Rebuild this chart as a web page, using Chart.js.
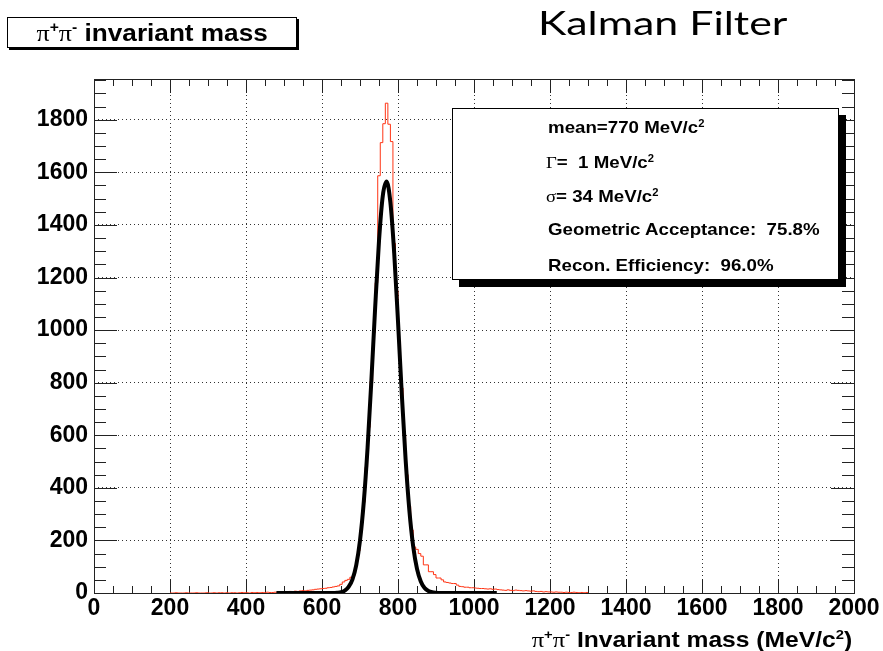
<!DOCTYPE html>
<html>
<head>
<meta charset="utf-8">
<script src="https://cdn.jsdelivr.net/npm/chart.js@4.4.1/dist/chart.umd.min.js"></script>
<style>
  html, body { margin: 0; padding: 0; background: #fff; }
  #wrap { position: relative; width: 883px; height: 651px; background: #fff; overflow: hidden; }
  #wrap canvas { position: absolute; left: 0; top: 0; }
  .root { position: absolute; font-family: "Liberation Sans", Arial, sans-serif; font-weight: bold; color: #000; white-space: nowrap; }
  .sym { font-family: "Liberation Serif", "DejaVu Serif", serif; font-weight: normal; }
  .sup { font-size: 60%; position: relative; top: -0.6em; }
  .stretch { display: inline-block; }
  #title { left: 7px; top: 17px; width: 288px; height: 29px; border: 1px solid #000; box-shadow: 2px 2px 0 #000; background: #fff; font-size: 24px; line-height: 29px; text-align: center; }
  #title .stretch { transform: scaleX(1.09); transform-origin: center top; }
  #kalman { position: absolute; left: 538px; top: 2px; font-family: Lato, "Open Sans", sans-serif; font-size: 33px; line-height: 40px; color: #000; transform-origin: left top; transform: scaleX(1.3); white-space: nowrap; }
  #stats { left: 452px; top: 108px; width: 385px; height: 170px; border: 1px solid #000; box-shadow: 7px 7px 0 #000; background: #fff; font-size: 17px; }
  #stats .ln { position: absolute; left: 95px; line-height: 20px; transform-origin: left top; transform: scaleX(1.1); }
  #xtitle { right: 31px; top: 628px; font-size: 22px; line-height: 24px; transform-origin: right top; transform: scaleX(1.12); }
</style>
</head>
<body>
<div id="wrap">
  <canvas id="c" width="883" height="651"></canvas>
  <div id="title" class="root"><span class="stretch"><span class="sym">π</span><span class="sup">+</span><span class="sym">π</span><span class="sup">-</span> invariant mass</span></div>
  <div id="kalman">Kalman Filter</div>
  <div id="stats" class="root">
    <div class="ln" style="top:9px">mean=770 MeV/c<span class="sup">2</span></div>
    <div class="ln" style="top:44px; left:93px"><span class="sym">Γ</span>=&nbsp; 1 MeV/c<span class="sup">2</span></div>
    <div class="ln" style="top:78px; left:93px"><span class="sym">σ</span>= 34 MeV/c<span class="sup">2</span></div>
    <div class="ln" style="top:111px">Geometric Acceptance:&nbsp; 75.8%</div>
    <div class="ln" style="top:147px">Recon. Efficiency:&nbsp; 96.0%</div>
  </div>
  <div id="xtitle" class="root"><span class="sym">π</span><span class="sup">+</span><span class="sym">π</span><span class="sup">-</span> Invariant mass (MeV/c<span class="sup">2</span>)</div>
</div>
<script>
// axis ticks
const xTicks = [0, 200, 400, 600, 800, 1000, 1200, 1400, 1600, 1800, 2000];
const yTicks = [0, 200, 400, 600, 800, 1000, 1200, 1400, 1600, 1800];

// red histogram, bins of 20/3 MeV starting at 200 MeV
const histLo = 200;
const histW = 20 / 3;
const histCounts = [
  0, 0, 1, 0, 0, 0, 1, 0, 0,
  0, 1, 0, 0, 0, 1, 0, 0, 1,
  0, 1, 1, 0, 1, 0, 1, 1, 0,
  1, 2, 1, 1, 0, 2, 1, 2, 1,
  2, 1, 3, 2, 2, 3, 2, 4, 3,
  4, 5, 6, 5, 7, 6, 8, 9, 8,
  10, 11, 12, 14, 15, 16, 17, 18, 20,
  21, 23, 25, 27, 33, 42, 48, 52, 60,
  66, 104, 160, 240, 345, 478, 630, 805, 990,
  1180, 1587, 1713, 1785, 1863, 1783, 1717, 1330, 1150,
  960, 780, 600, 450, 330, 240, 175, 166, 150,
  140, 107, 107, 81, 81, 70, 57, 57, 50,
  42, 40, 38, 36, 36, 30, 25, 24, 22,
  22, 20, 20, 19, 18, 17, 17, 16, 15,
  16, 14, 15, 13, 12, 11, 10, 12, 10,
  9, 11, 10, 9, 8, 9, 8, 7, 8,
  6, 5, 6, 4, 5, 4, 4, 3, 4,
  3, 3, 2, 3, 2, 2, 3, 2, 1,
  2, 1, 2
];

// black fit curve, sampled every 10 MeV from 480 MeV
const fitLo = 480;
const fitStep = 10;
const fitValues = [
  0, 0, 0, 0, 0, 0, 0, 0, 0, 0, 0, 0, 0, 0, 0, 0,
  1, 3, 9, 23, 51, 105, 200, 347, 554, 810, 1088, 1339, 1511,
  1565,
  1485, 1293, 1033, 756, 508, 313, 177, 92, 44, 19, 8, 3, 1,
  0, 0, 0, 0, 0, 0, 0, 0, 0, 0, 0, 0, 0, 0, 0, 0
];

const histPoints = histCounts.map((c, i) => ({ x: histLo + i * histW, y: c }));
histPoints.push({ x: histLo + histCounts.length * histW, y: histCounts[histCounts.length - 1] });
const fitPoints = fitValues.map((v, i) => ({ x: fitLo + i * fitStep, y: v }));

const tickFont = { family: "'Liberation Sans', Arial, sans-serif", weight: 'bold', size: 23 };

// ROOT style frame with major and minor ticks on all four sides
const rootAxes = {
  id: 'rootAxes',
  beforeDatasetsDraw(chart) {
    const { ctx, chartArea: a, scales: { x, y } } = chart;
    ctx.save();
    ctx.strokeStyle = '#222';
    ctx.lineWidth = 1;
    ctx.beginPath();
    for (let v = 0; v <= x.max; v += 50) {
      const px = Math.round(x.getPixelForValue(v)) + 0.5;
      const len = v % 200 === 0 ? 14 : 7;
      ctx.moveTo(px, a.bottom); ctx.lineTo(px, a.bottom - len);
      ctx.moveTo(px, a.top); ctx.lineTo(px, a.top + len);
    }
    for (let v = 0; v <= y.max; v += 50) {
      const py = Math.round(y.getPixelForValue(v)) + 0.5;
      const len = v % 200 === 0 ? 23 : 12;
      ctx.moveTo(a.left, py); ctx.lineTo(a.left + len, py);
      ctx.moveTo(a.right, py); ctx.lineTo(a.right - len, py);
    }
    ctx.stroke();
    ctx.strokeRect(Math.round(a.left) + 0.5, Math.round(a.top) + 0.5,
      Math.round(a.right - a.left), Math.round(a.bottom - a.top));
    ctx.restore();
  }
};

new Chart(document.getElementById('c'), {
  type: 'line',
  data: {
    datasets: [
      {
        label: 'fit',
        data: fitPoints,
        borderColor: '#000',
        borderWidth: 4,
        pointRadius: 0,
        cubicInterpolationMode: 'monotone',
        fill: false
      },
      {
        label: 'pi+pi- invariant mass',
        data: histPoints,
        borderColor: '#ff3414',
        borderWidth: 1,
        pointRadius: 0,
        stepped: true,
        fill: false
      }
    ]
  },
  options: {
    responsive: false,
    animation: false,
    layout: { padding: { top: 79, right: 29, left: 0, bottom: 0 } },
    plugins: { legend: { display: false }, tooltip: { enabled: false } },
    scales: {
      x: {
        type: 'linear',
        min: 0,
        max: 2000,
        afterBuildTicks: s => { s.ticks = xTicks.map(v => ({ value: v })); },
        afterFit: s => { s.height = 58; },
        grid: { color: '#333', lineWidth: 1, drawTicks: false },
        border: { display: false, dash: [1, 3] },
        ticks: { font: tickFont, color: '#000', padding: 2, maxRotation: 0, autoSkip: false, callback: v => String(v) }
      },
      y: {
        min: 0,
        max: 1955,
        afterBuildTicks: s => { s.ticks = yTicks.map(v => ({ value: v })); },
        afterFit: s => { s.width = 94; },
        grid: { color: '#333', lineWidth: 1, drawTicks: false },
        border: { display: false, dash: [1, 3] },
        ticks: { font: tickFont, color: '#000', padding: 6, autoSkip: false, callback: v => String(v) }
      }
    }
  },
  plugins: [rootAxes]
});
</script>
</body>
</html>
